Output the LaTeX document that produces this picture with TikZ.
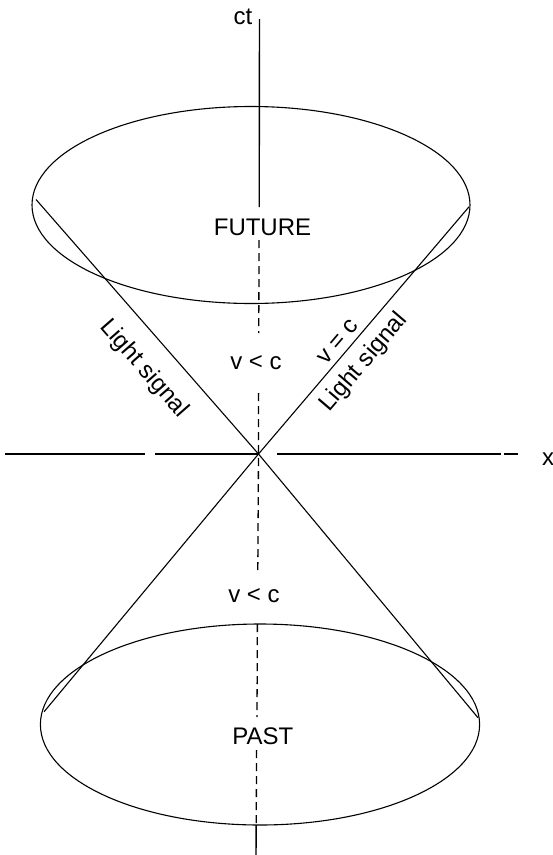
\documentclass[tikz,border=0pt]{standalone}
\usepackage{fontspec}
\setmainfont{Liberation Sans}
\begin{document}
\begin{tikzpicture}[x=1pt,y=-1pt,
  lbl/.style={font=\fontsize{24}{28}\selectfont, inner sep=0pt},
  ln/.style={line width=1.1pt},
  axis/.style={line width=1.4pt},
  dsh/.style={line width=1.3pt, dash pattern=on 8pt off 5pt}]
\useasboundingbox (0,0) rectangle (553,855);
% key points
\coordinate (O) at (258.5,454);
\coordinate (ctTop) at (259.5,19);
\coordinate (ctEnd) at (259.2,207);
\coordinate (d1a) at (259,240);
\coordinate (d1b) at (258.8,333);
\coordinate (d2a) at (258.6,393);
\coordinate (d3b) at (257.8,572);
\coordinate (d4a) at (257.4,624);
\coordinate (d4b) at (257,717);
\coordinate (d5a) at (256.6,750);
\coordinate (d5b) at (256.2,825);
\coordinate (bot) at (256,855);
\coordinate (UL) at (36,199.5);
\coordinate (UR) at (469.1,206.7);
\coordinate (LL) at (44.1,711.7);
\coordinate (LR) at (478,717.7);
\coordinate (topC) at (251,205);
\coordinate (botC) at (260,724.5);
\coordinate (h1) at (5.3,454);
\coordinate (h2) at (144.6,454);
\coordinate (h3) at (155.2,454);
\coordinate (h4) at (276.9,454);
\coordinate (h5) at (500.9,454);
\coordinate (h6) at (504,454);
\coordinate (h7) at (517.8,454);
% ellipses
\draw[ln] (topC) ellipse [x radius=219pt, y radius=98.5pt];
\draw[ln] (botC) ellipse [x radius=219.6pt, y radius=100.5pt];
% light lines
\draw[ln] (UL) -- (O) -- (LR);
\draw[ln] (UR) -- (O) -- (LL);
% ct axis
\draw[axis] (ctTop) -- (ctEnd);
\draw[dsh] (d1a) -- (d1b);
\draw[dsh] (d2a) -- (O) -- (d3b);
\draw[dsh] (d4a) -- (d4b);
\draw[dsh] (d5a) -- (d5b);
\draw[axis] (d5b) -- (bot);
% x axis
\draw[ln] (h1) -- (h2);
\draw[ln] (h3) -- (O);
\draw[ln] (h4) -- (h5);
\draw[ln] (h6) -- (h7);
% labels
\node[lbl] (ct) at (243,17) {ct};
\node[lbl] (xl) at (548,459) {x};
\node[lbl] (future) at (262.5,227.5) {FUTURE};
\node[lbl] (past) at (262.8,735.8) {PAST};
\node[lbl] (vc1) at (256,362.5) {v < c};
\node[lbl] (vc2) at (254,595.5) {v < c};
\node[lbl, rotate=49.5] (veq) at (338.3,341.7) {v = c};
\node[lbl, rotate=49.5] (lsr) at (364,362.5) {Light signal};
\node[lbl, rotate=-48.8] (lsl) at (144,369) {Light signal};
\end{tikzpicture}
\end{document}
